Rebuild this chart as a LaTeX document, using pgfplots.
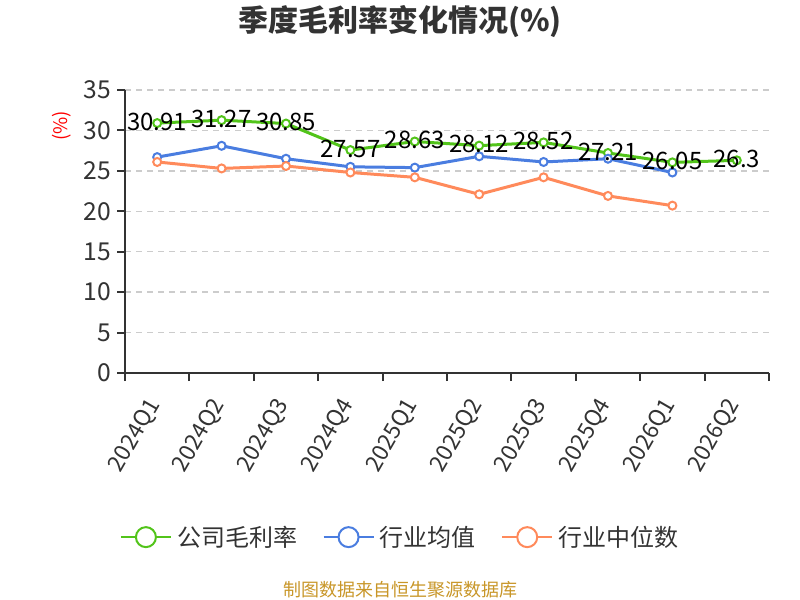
\documentclass[border=0pt]{standalone}
\usepackage{fontspec}
\setmainfont{Noto Sans CJK SC}
\usepackage{pgfplots}
\pgfplotsset{compat=1.18}
\usepackage{pgfplotstable}
\definecolor{cgreen}{RGB}{82,196,26}
\definecolor{cblue}{RGB}{74,125,224}
\definecolor{corange}{RGB}{255,138,91}
\definecolor{ctext}{RGB}{51,51,51}
\definecolor{cgrid}{RGB}{204,204,204}
\definecolor{csrc}{RGB}{200,150,40}

\pgfplotstableread{
x y
0 30.91
1 31.27
2 30.85
3 27.57
4 28.63
5 28.12
6 28.52
7 27.21
8 26.05
9 26.3
}\greentab

\pgfplotstableread{
x y
0 26.7
1 28.1
2 26.5
3 25.5
4 25.4
5 26.8
6 26.1
7 26.5
8 24.8
}\bluetab

\pgfplotstableread{
x y
0 26.1
1 25.3
2 25.6
3 24.8
4 24.2
5 22.1
6 24.2
7 21.9
8 20.7
}\orangetab

\begin{document}
\begin{tikzpicture}
\useasboundingbox (0,0) rectangle (600pt,450pt);
\begin{axis}[
  at={(93.75pt,170.25pt)}, anchor=south west,
  scale only axis, width=483pt, height=212.25pt,
  xmin=-0.5, xmax=9.5, ymin=0, ymax=35,
  clip=false,
  axis x line=bottom, axis y line=left,
  axis line style={-, draw=ctext, line width=1.5pt},
  xtick={0,...,9},
  xticklabels={2024Q1,2024Q2,2024Q3,2024Q4,2025Q1,2025Q2,2025Q3,2025Q4,2026Q1,2026Q2},
  minor xtick={-0.5,0.5,1.5,2.5,3.5,4.5,5.5,6.5,7.5,8.5,9.5},
  every major x tick/.append style={draw=none},
  ytick={0,5,...,35},
  tick align=outside,
  major tick length=6pt, minor tick length=6pt,
  tick style={draw=ctext, line width=1.5pt},
  xticklabel style={xshift=0pt, yshift=-12pt, rotate=60, anchor=east, font=\fontsize{17}{17}\selectfont, text=ctext},
  yticklabel style={font=\fontsize{18.5}{18.5}\selectfont, text=ctext, xshift=-1pt},
  /pgf/number format/assume math mode=true,
  ymajorgrids,
  major grid style={draw=cgrid, line width=1.1pt, dash pattern=on 4.5pt off 3.75pt},
  legend style={at={(0.43,-0.58)}, anchor=center, draw=none, fill=none,
    font=\fontsize{18}{18}\selectfont, text=ctext,
    /tikz/every even column/.append style={column sep=15pt},
    nodes={inner sep=4pt}},
  legend columns=3,
  legend image code/.code={
    \draw[#1, line width=1.5pt] (0pt,0pt) -- (37.5pt,0pt);
    \draw[#1, line width=1.5pt, fill=white] (18.75pt,0pt) circle (7.5pt);
  },
]
\addplot[cgreen, line width=2.25pt, mark=*, mark size=3pt, mark options={fill=white, line width=1.5pt}] table[x=x,y=y] {\greentab};
\addlegendentry{公司毛利率}
\addplot[cblue, line width=2.25pt, mark=*, mark size=3pt, mark options={fill=white, line width=1.5pt}] table[x=x,y=y] {\bluetab};
\addlegendentry{行业均值}
\addplot[corange, line width=2.25pt, mark=*, mark size=3pt, mark options={fill=white, line width=1.5pt}] table[x=x,y=y] {\orangetab};
\addlegendentry{行业中位数}
\addplot[draw=none, mark=none, forget plot,
  nodes near coords,
  nodes near coords style={anchor=center, font=\fontsize{18}{18}\selectfont, text=black, yshift=1pt,
    /pgf/number format/assume math mode=true, /pgf/number format/precision=2},
] table[x=x,y=y] {\greentab};
\end{axis}
\node[font=\bfseries\fontsize{22.5}{22.5}\selectfont, text=ctext] at (300pt,433.5pt) {季度毛利率变化情况(\%)};
\node[font=\fontsize{14}{14}\selectfont, text=red, rotate=90] at (46.5pt,355.5pt) {(\%)};
\node[font=\fontsize{13.5}{13.5}\selectfont, text=csrc] at (300pt,7.5pt) {制图数据来自恒生聚源数据库};
\end{tikzpicture}
\end{document}
